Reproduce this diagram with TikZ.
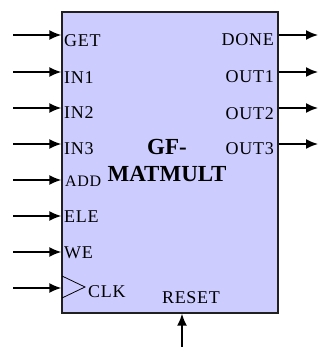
\documentclass[tikz,border=0pt]{standalone}
\usepackage{fontspec}
\setmainfont{Liberation Serif}
\usetikzlibrary{arrows.meta}
\definecolor{blockfill}{HTML}{CCCCFF}
\definecolor{edge}{HTML}{202020}
\begin{document}
\begin{tikzpicture}[x=1pt,y=-1pt,
  sig/.style={-{Latex[length=12pt,width=10pt]}, line width=1.6pt, draw=black},
  lbl/.style={inner sep=0pt, font=\fontsize{18}{18}\selectfont\addfontfeature{LetterSpace=4}},
  title/.style={inner sep=0pt, align=center, font=\fontsize{23}{27}\selectfont\bfseries}]
\useasboundingbox (0,0) rectangle (320,347);

% block body
\node[draw=edge, line width=1.4pt, fill=blockfill, minimum width=216pt,
      minimum height=301pt, inner sep=0pt] (blk) at (170,162.5) {};

% title
\node[title] (name) at (167,160) {GF-\\MATMULT};

% input pins
\foreach \n/\y in {get/35, ina/72, inb/108, inc/144, add/180, ele/216, we/252, clk/288}{
  \coordinate (src-\n) at (13,\y);
  \draw[sig] (src-\n) -- (src-\n -| blk.west);
}
\node[lbl, anchor=west] (l-get) at (64,41) {GET};
\node[lbl, anchor=west] (l-ina) at (64,77.5) {IN1};
\node[lbl, anchor=west] (l-inb) at (64,113) {IN2};
\node[lbl, anchor=west] (l-inc) at (64,149) {IN3};
\node[lbl, anchor=west, font=\fontsize{16}{16}\selectfont\addfontfeature{LetterSpace=4}] (l-add) at (65,181.5) {ADD};
\node[lbl, anchor=west] (l-ele) at (64,216.5) {ELE};
\node[lbl, anchor=west] (l-we) at (64,253) {WE};
\node[lbl, anchor=west] (l-clk) at (88,292) {CLK};

% clock marker
\coordinate (ck-top) at (62,276);
\coordinate (ck-tip) at (85,287);
\coordinate (ck-bot) at (62,298);
\draw[line width=0.8pt] (ck-top) -- (ck-tip) -- (ck-bot);

% output pins
\foreach \n/\y in {done/35, outa/72, outb/108, outc/144}{
  \coordinate (dst-\n) at (318,\y);
  \draw[sig] (dst-\n -| blk.east) -- (dst-\n);
}
\node[lbl, anchor=east] (l-done) at (274,40) {DONE};
\node[lbl, anchor=east] (l-outa) at (274,76.5) {OUT1};
\node[lbl, anchor=east] (l-outb) at (274,113.5) {OUT2};
\node[lbl, anchor=east] (l-outc) at (274,148.5) {OUT3};

% reset pin
\node[lbl] (l-reset) at (191,297.5) {RESET};
\coordinate (src-reset) at (182,347);
\draw[sig] (src-reset) -- (src-reset |- blk.south);
\end{tikzpicture}
\end{document}
